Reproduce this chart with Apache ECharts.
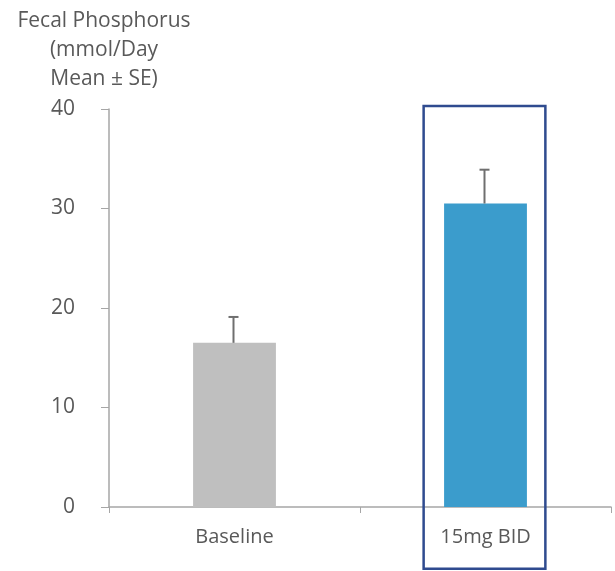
<!DOCTYPE html>
<html>
<head>
<meta charset="utf-8">
<script src="https://cdn.jsdelivr.net/npm/echarts@6/dist/echarts.min.js"></script>
<style>
  html, body { margin: 0; padding: 0; background: #fff; }
  #chart { width: 615px; height: 571px; }
</style>
</head>
<body>
<div id="chart"></div>
<script>
const categories = ["Baseline", "15mg BID"];
const means = [16.5, 30.5];
const upperSE = [19.1, 33.9];
const barColors = ["#bfbfbf", "#3b9ccc"];
const yTicks = [0, 10, 20, 30, 40];
const titleLines = ["Fecal Phosphorus", "(mmol/Day", "Mean \u00b1 SE)"];
const highlightIndex = 1;
const highlightRange = [-6.2, 40.3];

const chart = echarts.init(document.getElementById("chart"));
const font = "'Open Sans', sans-serif";

chart.setOption({
  animation: false,
  backgroundColor: "#fff",
  graphic: titleLines.map((line, i) => ({
    type: "text",
    x: 104,
    y: 11 + i * 29,
    style: {
      text: line,
      align: "center",
      verticalAlign: "top",
      fill: "#595959",
      font: "21px " + font,
    },
  })),
  grid: { left: 109, right: 4, top: 109, bottom: 64 },
  xAxis: {
    type: "category",
    data: categories,
    axisLine: { lineStyle: { color: "#a6a6a6", width: 1.5 } },
    axisTick: { show: true, length: 6, lineStyle: { color: "#a6a6a6" } },
    axisLabel: { color: "#595959", fontFamily: font, fontSize: 20, margin: 20 },
  },
  yAxis: {
    type: "value",
    min: yTicks[0],
    max: yTicks[yTicks.length - 1],
    interval: 10,
    axisLine: { show: true, lineStyle: { color: "#a6a6a6", width: 1.5 } },
    axisTick: { show: true, length: 8, lineStyle: { color: "#a6a6a6" } },
    splitLine: { show: false },
    axisLabel: { color: "#595959", fontFamily: font, fontSize: 21, margin: 34 },
  },
  series: [
    {
      type: "bar",
      barWidth: "33%",
      data: means.map((v, i) => ({ value: v, itemStyle: { color: barColors[i] } })),
      z: 2,
    },
    {
      type: "custom",
      data: upperSE.map((v, i) => [i, means[i], v]),
      z: 3,
      renderItem: (params, api) => {
        const base = api.coord([api.value(0), api.value(1)]);
        const top = api.coord([api.value(0), api.value(2)]);
        const x = base[0] - 1;
        const style = { stroke: "#6f6f6f", lineWidth: 2 };
        return {
          type: "group",
          children: [
            { type: "line", shape: { x1: x, y1: base[1], x2: x, y2: top[1] }, style },
            { type: "line", shape: { x1: x - 5, y1: top[1], x2: x + 5, y2: top[1] }, style },
          ],
        };
      },
    },
    {
      type: "custom",
      clip: false,
      data: [[highlightIndex, highlightRange[0], highlightRange[1]]],
      z: 4,
      renderItem: (params, api) => {
        const lo = api.coord([api.value(0), api.value(1)]);
        const hi = api.coord([api.value(0), api.value(2)]);
        const w = api.size([1, 0])[0] * 0.485;
        return {
          type: "rect",
          shape: { x: lo[0] - w / 2 - 1, y: hi[1], width: w, height: lo[1] - hi[1] },
          style: { fill: "none", stroke: "#2f4b8f", lineWidth: 2.5 },
        };
      },
    },
  ],
});
</script>
</body>
</html>
